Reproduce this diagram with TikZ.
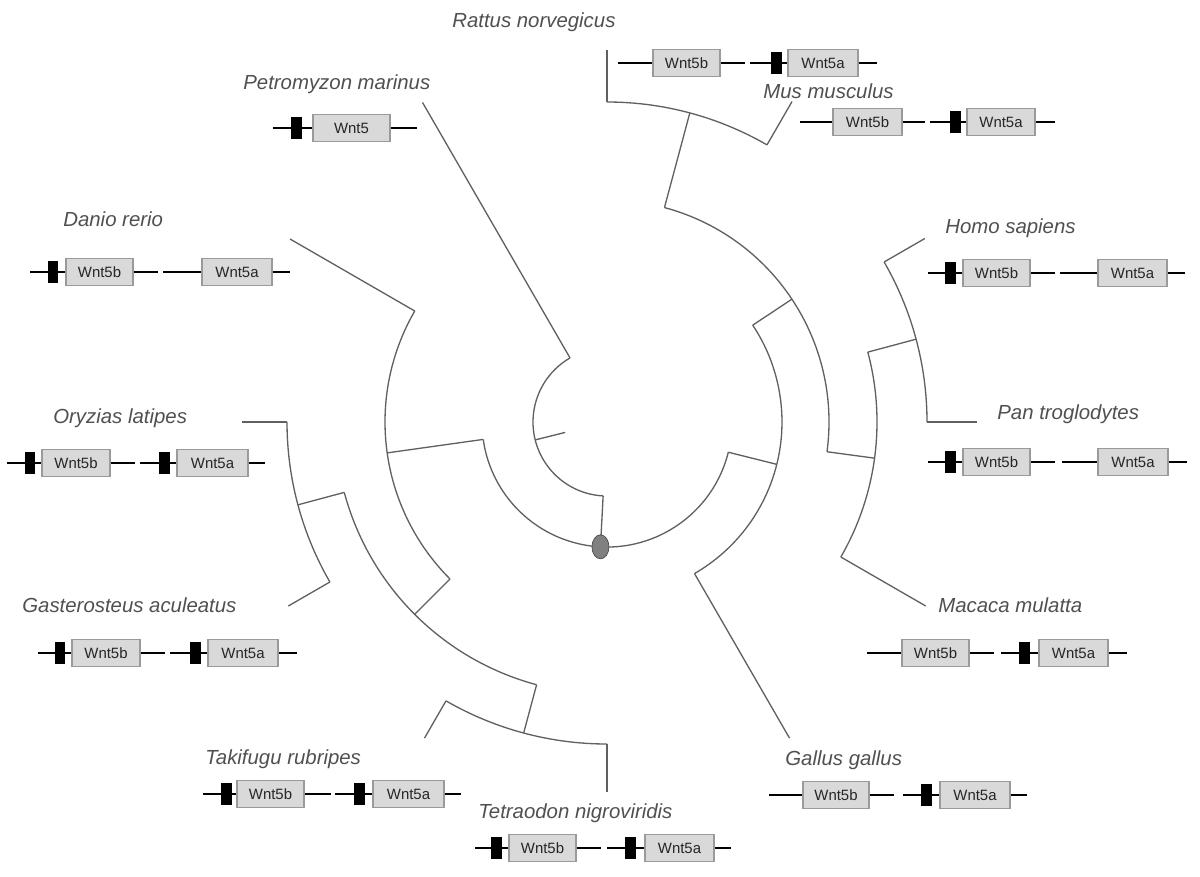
\documentclass[tikz,border=0pt]{standalone}
\usepackage{fontspec}
\setmainfont{Liberation Sans}
\usetikzlibrary{shapes.geometric}
\definecolor{treegrey}{HTML}{606060}
\definecolor{namegrey}{HTML}{505050}
\definecolor{boxfill}{HTML}{D9D9D9}
\definecolor{boxline}{HTML}{9A9A9A}
\tikzset{
  branch/.style={draw=treegrey, line width=0.75pt},
  species/.style={text=namegrey, font=\fontsize{11.6}{14}\selectfont\itshape, inner sep=0pt, anchor=base west},
  genebox/.style={draw=boxline, fill=boxfill, line width=0.6pt, minimum height=0.54cm, inner sep=0pt,
    font=\fontsize{8.5}{10}\selectfont, text=black!85},
  dna/.style={black, line width=1.5pt},
  promoter/.style={fill=black, minimum width=0.22cm, minimum height=0.44cm, inner sep=0pt},
  rootdot/.style={ellipse, draw=black!70, fill=black!50, minimum width=0.34cm, minimum height=0.48cm, inner sep=0pt}
}

\begin{document}
\begin{tikzpicture}[x=0.02cm, y=-0.02cm]
  \useasboundingbox (0,0) rectangle (1200,876);
  \coordinate (O) at (607,422);
  \begin{scope}[shift={(O)}]
    \foreach \ang/\ri/\ro/\nm in {93/125/74/root, 240/74/369/pmT, 166/74/43/stub, 172/125/222/fish,
        210/222/366/drT, 135/222/272/aca, 165/272/320/olga, 180/320/365/olT, 150/320/368/gaT,
        105/272/322/tet, 120/322/365/trT, 90/322/370/tnT, 14/125/175/tetra, 60/175/365/ggT,
        -33.6/175/222/mam, -75/222/320/rod, -90/320/372/rnT, -60/320/370/mmT, 7.7/222/270/pri,
        30/270/368/mcT, -15/270/320/hp, -30/320/367/hsT, 0/320/370/ptT}{
      \coordinate (\nm-a) at (\ang:\ri);
      \coordinate (\nm-b) at (\ang:\ro);
      \draw[branch] (\nm-a) -- (\nm-b);
    }
    \foreach \sa/\ea/\rad in {93/240/74, 14/172/125, 135/210/222, 105/165/272, 150/180/320, 90/120/322,
        -33.6/60/175, -75/7.7/222, -90/-60/320, -15/30/270, -30/0/320}
      \draw[branch] (\sa:\rad) arc[start angle=\sa, end angle=\ea, radius=\rad];
  \end{scope}
  \node[rootdot] (rootdot) at (root-a) {};

  \foreach \nm/\xx/\yy/\lab in {rn/452/27/Rattus norvegicus, pm/243/89/Petromyzon marinus,
      mm/763/98/Mus musculus, dr/63/226/Danio rerio, hs/945/233/Homo sapiens,
      ol/53/423/Oryzias latipes, pt/997/419/Pan troglodytes, ga/22/612/Gasterosteus aculeatus,
      mc/938/612/Macaca mulatta, gg/785/765/Gallus gallus, tr/205/764/Takifugu rubripes,
      tn/478/818/Tetraodon nigroviridis}
    \node[species] (\nm) at (\xx,\yy) {\lab};

  \foreach \nm/\xl/\xm/\bxl/\bxr/\xr/\yy/\lab in {
      rn5b/618/0/653/720/745/63/Wnt5b, rn5a/750/776/788/858/877/63/Wnt5a,
      mm5b/800/0/833/902/925/122/Wnt5b, mm5a/930/955/967/1035/1055/122/Wnt5a,
      pm5/273/296/313/390/417/128/Wnt5,
      dr5b/30/53/66/133/158/272/Wnt5b, dr5a/163/0/202/272/290/272/Wnt5a,
      hs5b/928/950/963/1030/1055/273/Wnt5b, hs5a/1060/0/1098/1167/1185/273/Wnt5a,
      pt5b/928/950/963/1030/1055/462/Wnt5b, pt5a/1062/0/1098/1168/1187/462/Wnt5a,
      ol5b/7/30/42/110/135/463/Wnt5b, ol5a/140/164/177/248/265/463/Wnt5a,
      ga5b/38/60/72/140/165/653/Wnt5b, ga5a/170/195/208/278/297/653/Wnt5a,
      mc5b/867/0/902/969/994/653/Wnt5b, mc5a/1001/1024/1039/1108/1127/653/Wnt5a,
      gg5b/769/0/803/869/894/795/Wnt5b, gg5a/903/926/940/1010/1027/795/Wnt5a,
      tr5b/203/226/237/304/331/794/Wnt5b, tr5a/335/359/373/444/461/794/Wnt5a,
      tn5b/475/496/509/576/601/848/Wnt5b, tn5a/607/630/645/714/731/848/Wnt5a}{
    \node[genebox, minimum width={(\bxr-\bxl)*0.02cm}] (\nm) at ({(\bxl+\bxr)/2},\yy) {\lab};
    \draw[dna] (\xl,\yy) -- (\nm.west);
    \draw[dna] (\nm.east) -- (\xr,\yy);
    \ifnum\xm>0 \node[promoter] (\nm-p) at (\xm,\yy) {}; \fi
  }
\end{tikzpicture}
\end{document}
